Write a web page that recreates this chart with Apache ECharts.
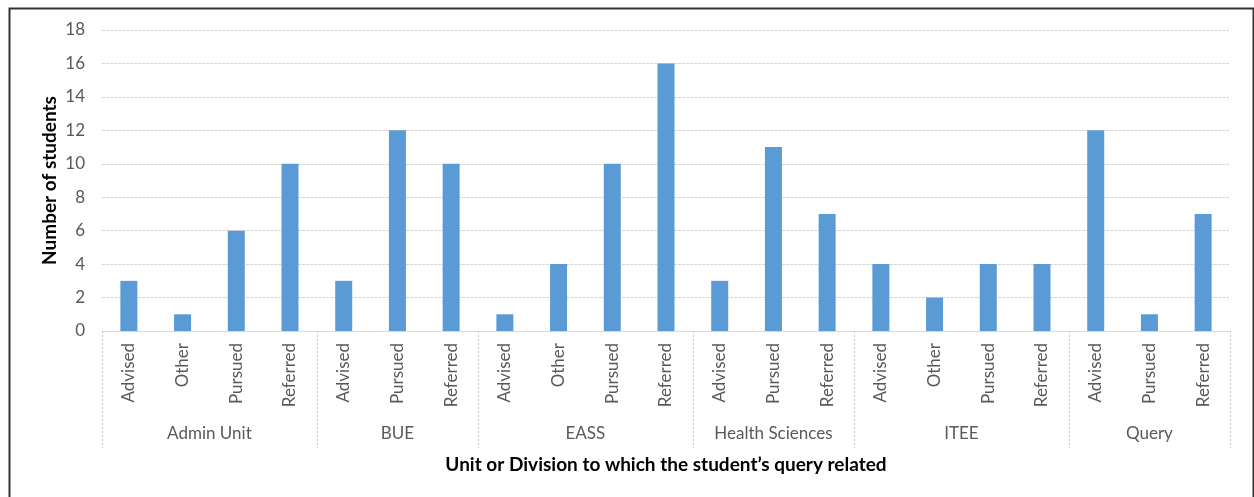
<!DOCTYPE html>
<html>
<head>
<meta charset="utf-8">
<script src="https://cdn.jsdelivr.net/npm/echarts@6/dist/echarts.min.js"></script>
<style>
html,body{margin:0;padding:0;background:#fff;}
#chart{width:1254px;height:497px;}
</style>
</head>
<body>
<div id="chart"></div>
<script>
// ---- data ----
const groups = ['Admin Unit', 'BUE', 'EASS', 'Health Sciences', 'ITEE', 'Query'];
const groupSizes = [4, 3, 4, 3, 4, 3];
const categories = [
  'Advised', 'Other', 'Pursued', 'Referred',
  'Advised', 'Pursued', 'Referred',
  'Advised', 'Other', 'Pursued', 'Referred',
  'Advised', 'Pursued', 'Referred',
  'Advised', 'Other', 'Pursued', 'Referred',
  'Advised', 'Pursued', 'Referred'
];
const values = [
  3, 1, 6, 10,
  3, 12, 10,
  1, 4, 10, 16,
  3, 11, 7,
  4, 2, 4, 4,
  12, 1, 7
];
const yTicks = [0, 2, 4, 6, 8, 10, 12, 14, 16, 18];
const xTitle = 'Unit or Division to which the student\u2019s query related';
const yTitle = 'Number of students';

// derived: group boundaries and centers in category units
const boundaries = [0];
const centers = [];
groupSizes.forEach(function (n, i) {
  const start = boundaries[i];
  boundaries.push(start + n);
  centers.push(start + n / 2);
});

const FONT = 'Lato, "Open Sans", sans-serif';
const chart = echarts.init(document.getElementById('chart'));
chart.setOption({
  animation: false,
  backgroundColor: '#fff',
  textStyle: { fontFamily: FONT },
  graphic: [{
    type: 'rect',
    left: 7, top: 6,
    shape: { width: 1244, height: 520 },
    style: { fill: 'none', stroke: '#333', lineWidth: 2 },
    silent: true
  }],
  grid: { left: 102, right: 24, top: 30, bottom: 166 },
  xAxis: [{
    type: 'category',
    data: categories,
    position: 'bottom',
    axisLine: { show: true, lineStyle: { color: '#d9d9d9', width: 1 } },
    axisTick: { show: false },
    axisLabel: { rotate: 90, margin: 12, fontSize: 17, color: '#595959', fontFamily: FONT },
    splitLine: { show: false },
    name: xTitle,
    nameLocation: 'middle',
    nameGap: 124,
    nameMoveOverlap: false,
    nameTextStyle: { fontSize: 19, fontWeight: 'bold', color: '#000', fontFamily: FONT, verticalAlign: 'top' }
  }, {
    type: 'value',
    position: 'bottom',
    min: 0,
    max: categories.length,
    axisLine: { show: false },
    splitLine: { show: false },
    axisTick: {
      show: true,
      customValues: boundaries,
      length: 117,
      lineStyle: { color: '#c8c8c8', type: [2, 2], width: 1 }
    },
    axisLabel: {
      customValues: centers,
      margin: 94,
      fontSize: 17,
      color: '#595959',
      fontFamily: FONT,
      formatter: function (v) {
        const i = centers.indexOf(v);
        return i >= 0 ? groups[i] : '';
      }
    }
  }],
  yAxis: {
    type: 'value',
    min: yTicks[0],
    max: yTicks[yTicks.length - 1],
    interval: yTicks[1] - yTicks[0],
    axisLine: { show: false },
    axisTick: { show: false },
    axisLabel: { fontSize: 17, color: '#595959', margin: 17, fontFamily: FONT },
    splitLine: { show: true, lineStyle: { color: '#d4d4d4', type: [3, 1], width: 1 } },
    name: yTitle,
    nameLocation: 'middle',
    nameGap: 43,
    nameMoveOverlap: false,
    nameRotate: 90,
    nameTextStyle: { fontSize: 19, fontWeight: 'bold', color: '#000', fontFamily: FONT }
  },
  series: [{
    type: 'bar',
    xAxisIndex: 0,
    data: values,
    barWidth: 17,
    itemStyle: { color: '#5B9BD5' }
  }]
});
</script>
</body>
</html>
